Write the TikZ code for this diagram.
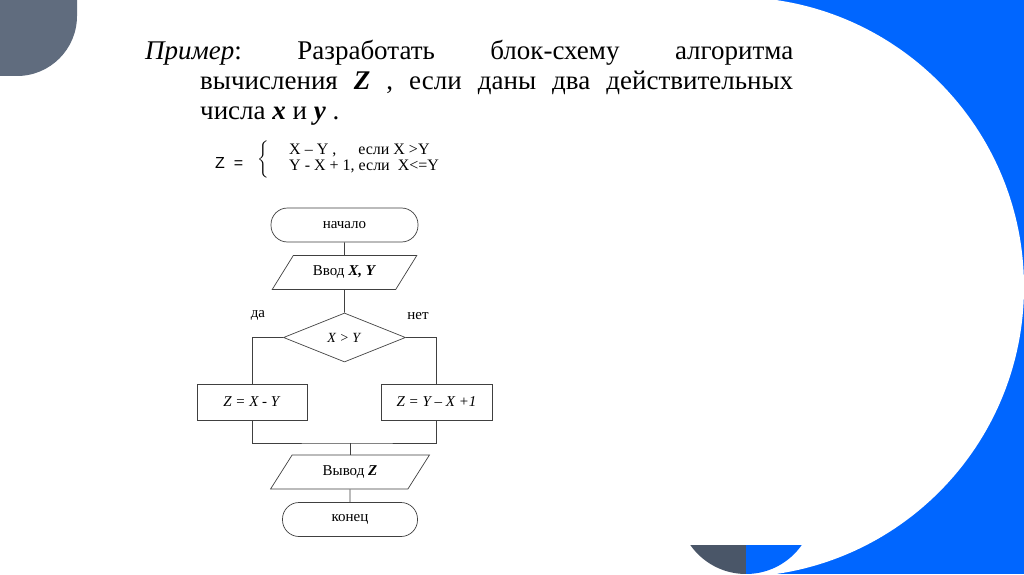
\documentclass[tikz,border=0pt]{standalone}
\usepackage{fontspec}
\setmainfont{Liberation Serif}
\newfontfamily\arialfont{Liberation Sans}
\usetikzlibrary{shapes.geometric}
\definecolor{slideblue}{RGB}{0,102,255}
\definecolor{slidegray}{RGB}{96,108,126}
\definecolor{slidedark}{RGB}{74,86,104}
\tikzset{
  term/.style={rectangle,rounded corners=16.5pt,draw=black!75,line width=0.7pt,
               minimum width=#1,minimum height=34pt,
               font=\fontsize{15}{17}\selectfont},
  term/.default=147pt,
  io/.style 2 args={trapezium,trapezium stretches=true,
               trapezium left angle=#1,trapezium right angle=#2,
               draw=black!75,line width=0.7pt,minimum height=34pt,
               font=\fontsize{15}{17}\selectfont},
  decision/.style={diamond,draw=black!75,line width=0.7pt,aspect=2.5,
               minimum width=122pt,minimum height=49pt,inner sep=1pt,
               font=\fontsize{14}{16}\selectfont},
  proc/.style={rectangle,draw=black!75,line width=0.7pt,
               minimum width=110pt,minimum height=36pt,
               font=\fontsize{15}{17}\selectfont},
  lbl/.style={inner sep=0pt,font=\fontsize{15}{17}\selectfont},
  flow/.style={draw=black!75,line width=0.7pt},
}

\begin{document}
\begin{tikzpicture}[x=1pt,y=1pt]

  \useasboundingbox (0,0) rectangle (1024,574);
  \fill[white] (0,0) rectangle (1024,574);
  \fill[slideblue] (734,0) rectangle (1024,574);
  \fill[white] (734,287) circle (290);
  \fill[slidegray] (0,574) -- (77,574) -- (77,558)
    arc[start angle=0,end angle=-90,radius=60] -- (0,498) -- cycle;
  \begin{scope}
    \clip (746,68) circle (68);
    \fill[slidedark] (670,0) rectangle (746,29);
    \fill[slideblue] (746,0) rectangle (820,29);
  \end{scope}

  \node[anchor=north west,text width=648pt,inner sep=0pt,align=justify,
        font=\fontsize{27}{30}\selectfont] (task) at (145,534)
    {\frenchspacing\noindent\hangindent=55pt\hangafter=1
     \textit{Пример}: Разработать блок-схему алгоритма\linebreak
     вычисления \textbf{\textit{Z}} , если даны два действительных\linebreak
     числа \textbf{\textit{x}} и \textbf{\textit{y}} .\par};

  \node[anchor=base west,inner sep=0pt,font=\arialfont\fontsize{16}{18}\selectfont]
        (zname) at (215,406) {Z\hspace{9pt}=};
  \node[inner sep=0pt,scale=1.55] (brace) at (263,415) {$\biggl\{$};
  \node[anchor=west,inner sep=0pt,font=\fontsize{16}{16}\selectfont]
        (zcases) at (289,415)
    {\begin{tabular}{@{}l@{}}
       X – Y ,\hspace{22pt}если X >Y\\
       Y - X + 1, если\ \ X<=Y
     \end{tabular}};

  \node[term] (start) at (344.5,349) {начало};
  \node[io={53.4}{126.6},minimum width=145pt] (inp) at (344.5,301.5)
        {Ввод \textbf{\textit{X, Y}}};
  \node[decision] (cond) at (344.5,236.5) {\textit{X > Y}};
  \node[lbl] (yeslbl) at (258,259) {да};
  \node[lbl] (nolbl) at (418,258) {нет};
  \node[proc] (yes) at (252,172) {\textit{Z = X - Y}};
  \node[proc,minimum width=111pt] (no) at (436.5,172) {\textit{Z = Y – X +1}};
  \coordinate (join) at (350,131);
  \node[io={59.5}{120.5},minimum width=160pt] (outp) at (350,102)
        {Вывод \textbf{\textit{Z}}};
  \node[term=135pt] (stop) at (350,54.5) {конец};

  \draw[flow] (start) -- (inp);
  \draw[flow] (inp) -- (cond);
  \draw[flow] (cond.west) -| (yes.north);
  \draw[flow] (cond.east) -| (no.north);
  \draw[flow] (yes.south) |- (join) -| (no.south);
  \draw[flow] (join) -- (outp);
  \draw[flow] (outp) -- (stop);

\end{tikzpicture}
\end{document}
